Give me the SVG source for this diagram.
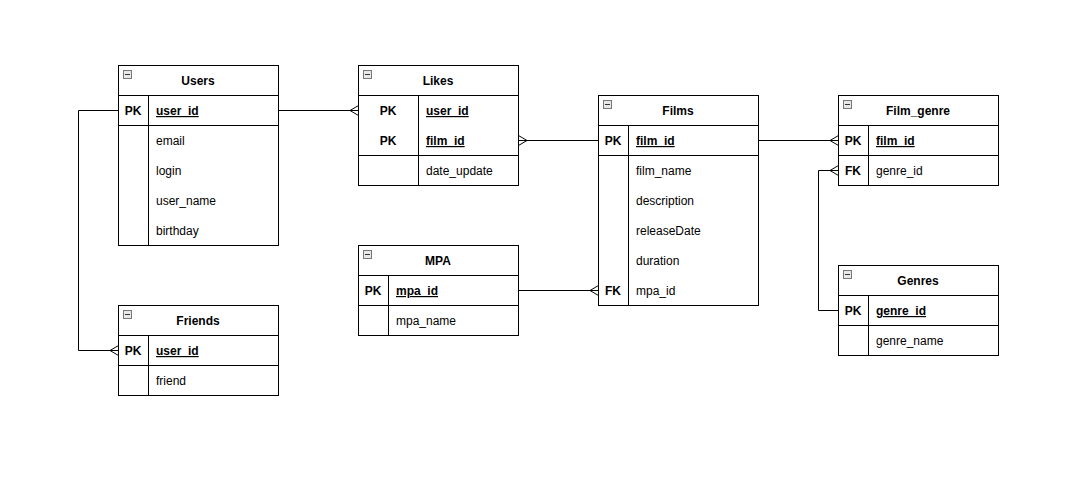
<svg xmlns="http://www.w3.org/2000/svg" width="1084" height="484" viewBox="0 0 1084 484">
<style>
.box{fill:#fff;stroke:#000;stroke-width:1}
.ln{stroke:#000;stroke-width:1;fill:none}
text{font-family:"Liberation Sans",Arial,sans-serif;font-size:12px;fill:#000}
.t{font-weight:bold;text-anchor:middle}
.k{font-weight:bold;text-anchor:middle}
.pk{font-weight:bold;text-decoration:underline}
.ic{fill:#e8e8e8;stroke:#777;stroke-width:1}
</style>
<defs>
<g id="icon"><rect class="ic" x="0.5" y="0.5" width="8" height="8"/><line x1="2" y1="4.5" x2="7" y2="4.5" stroke="#333" stroke-width="1"/></g>
</defs>
<rect width="1084" height="484" fill="#fff"/>
<g id="connectors" class="ln">
<path d="M278.5,110.5 H358.5 M350,110.5 L358.5,105.5 M350,110.5 L358.5,115.5"/>
<path d="M518.5,140.5 H598.5 M527,140.5 L518.5,135.5 M527,140.5 L518.5,145.5"/>
<path d="M758.5,140.5 H838.5 M830,140.5 L838.5,135.5 M830,140.5 L838.5,145.5"/>
<path d="M838.5,310.5 H818.5 V170.5 H838.5 M830,170.5 L838.5,165.5 M830,170.5 L838.5,175.5"/>
<path d="M118.5,110.5 H78.5 V350.5 H118.5 M110,350.5 L118.5,345.5 M110,350.5 L118.5,355.5"/>
<path d="M518.5,290.5 H598.5 M590,290.5 L598.5,285.5 M590,290.5 L598.5,295.5"/>
</g>
<g id="users">
<rect class="box" x="118.5" y="65.5" width="160" height="180"/>
<path class="ln" d="M118.5,95.5 H278.5 M118.5,125.5 H278.5 M148.5,95.5 V245.5"/>
<use href="#icon" x="123" y="70"/>
<text class="t" x="198" y="85">Users</text>
<text class="k" x="133" y="115">PK</text>
<text class="pk" x="156" y="115">user_id</text>
<text x="156" y="145">email</text>
<text x="156" y="175">login</text>
<text x="156" y="205">user_name</text>
<text x="156" y="235">birthday</text>
</g>
<g id="friends">
<rect class="box" x="118.5" y="305.5" width="160" height="90"/>
<path class="ln" d="M118.5,335.5 H278.5 M118.5,365.5 H278.5 M148.5,335.5 V395.5"/>
<use href="#icon" x="123" y="310"/>
<text class="t" x="198" y="325">Friends</text>
<text class="k" x="133" y="355">PK</text>
<text class="pk" x="156" y="355">user_id</text>
<text x="156" y="385">friend</text>
</g>
<g id="likes">
<rect class="box" x="358.5" y="65.5" width="160" height="120"/>
<path class="ln" d="M358.5,95.5 H518.5 M358.5,155.5 H518.5 M418.5,95.5 V185.5"/>
<use href="#icon" x="363" y="70"/>
<text class="t" x="438" y="85">Likes</text>
<text class="k" x="388" y="115">PK</text>
<text class="pk" x="426" y="115">user_id</text>
<text class="k" x="388" y="145">PK</text>
<text class="pk" x="426" y="145">film_id</text>
<text x="426" y="175">date_update</text>
</g>
<g id="mpa">
<rect class="box" x="358.5" y="245.5" width="160" height="90"/>
<path class="ln" d="M358.5,275.5 H518.5 M358.5,305.5 H518.5 M388.5,275.5 V335.5"/>
<use href="#icon" x="363" y="250"/>
<text class="t" x="438" y="265">MPA</text>
<text class="k" x="373" y="295">PK</text>
<text class="pk" x="396" y="295">mpa_id</text>
<text x="396" y="325">mpa_name</text>
</g>
<g id="films">
<rect class="box" x="598.5" y="95.5" width="160" height="210"/>
<path class="ln" d="M598.5,125.5 H758.5 M598.5,155.5 H758.5 M628.5,125.5 V305.5"/>
<use href="#icon" x="603" y="100"/>
<text class="t" x="678" y="115">Films</text>
<text class="k" x="613" y="145">PK</text>
<text class="pk" x="636" y="145">film_id</text>
<text x="636" y="175">film_name</text>
<text x="636" y="205">description</text>
<text x="636" y="235">releaseDate</text>
<text x="636" y="265">duration</text>
<text class="k" x="613" y="295">FK</text>
<text x="636" y="295">mpa_id</text>
</g>
<g id="film_genre">
<rect class="box" x="838.5" y="95.5" width="160" height="90"/>
<path class="ln" d="M838.5,125.5 H998.5 M838.5,155.5 H998.5 M868.5,125.5 V185.5"/>
<use href="#icon" x="843" y="100"/>
<text class="t" x="918" y="115">Film_genre</text>
<text class="k" x="853" y="145">PK</text>
<text class="pk" x="876" y="145">film_id</text>
<text class="k" x="853" y="175">FK</text>
<text x="876" y="175">genre_id</text>
</g>
<g id="genres">
<rect class="box" x="838.5" y="265.5" width="160" height="90"/>
<path class="ln" d="M838.5,295.5 H998.5 M838.5,325.5 H998.5 M868.5,295.5 V355.5"/>
<use href="#icon" x="843" y="270"/>
<text class="t" x="918" y="285">Genres</text>
<text class="k" x="853" y="315">PK</text>
<text class="pk" x="876" y="315">genre_id</text>
<text x="876" y="345">genre_name</text>
</g>
</svg>
